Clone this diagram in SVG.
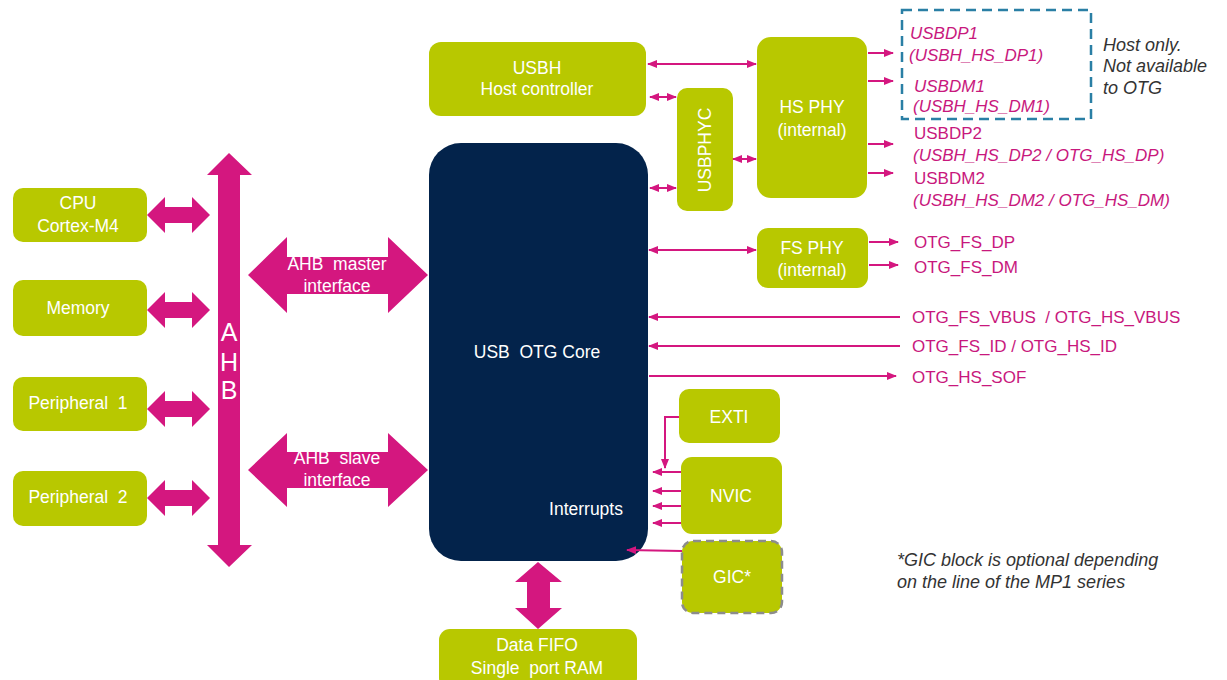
<svg xmlns="http://www.w3.org/2000/svg" width="1227" height="680" viewBox="0 0 1227 680">
<style>
.lime{fill:#b8c800}
.core{fill:#03234b}
.fat{fill:#d4177f}
.ln{stroke:#d4177f;stroke-width:2;fill:none}
.bt{font-family:"Liberation Sans",Arial,sans-serif;font-size:17.5px;fill:#ffffff;text-anchor:middle}
.pk{font-family:"Liberation Sans",Arial,sans-serif;font-size:17px;fill:#c8187d}
.it{font-style:italic}
.nt{font-family:"Liberation Sans",Arial,sans-serif;font-size:18px;font-style:italic;fill:#333333}
</style>
<defs>
<marker id="ah" markerUnits="userSpaceOnUse" markerWidth="10" markerHeight="8" refX="9" refY="4" orient="auto-start-reverse">
<path d="M0,0 L10,4 L0,8 z" fill="#d4177f"/>
</marker>
</defs>
<rect width="1227" height="680" fill="#ffffff"/>

<g id="cpu"><rect class="lime" x="13" y="188" width="134" height="54" rx="10"/><text class="bt" x="78" y="209">CPU</text><text class="bt" x="78" y="232">Cortex-M4</text></g>
<g id="memory"><rect class="lime" x="13" y="280" width="134" height="56" rx="10"/><text class="bt" x="78" y="314">Memory</text></g>
<g id="peripheral1"><rect class="lime" x="13" y="377" width="134" height="54" rx="10"/><text class="bt" x="78" y="409" xml:space="preserve">Peripheral  1</text></g>
<g id="peripheral2"><rect class="lime" x="13" y="471" width="134" height="55" rx="10"/><text class="bt" x="78" y="503" xml:space="preserve">Peripheral  2</text></g>
<g id="otg-core"><rect class="core" x="429" y="143" width="219" height="418" rx="32"/><text class="bt" x="537" y="358" xml:space="preserve">USB  OTG Core</text><text class="bt" x="586" y="515">Interrupts</text></g>
<g id="usbh"><rect class="lime" x="429" y="42" width="217" height="74" rx="12"/><text class="bt" x="537" y="74">USBH</text><text class="bt" x="537" y="95">Host controller</text></g>
<g id="usbphyc"><rect class="lime" x="677" y="88" width="56" height="123" rx="10"/><text class="bt" transform="translate(711,150) rotate(-90)" x="0" y="0">USBPHYC</text></g>
<g id="hsphy"><rect class="lime" x="757" y="37" width="110" height="161" rx="14"/><text class="bt" x="812" y="113">HS PHY</text><text class="bt" x="812" y="136">(internal)</text></g>
<g id="fsphy"><rect class="lime" x="757" y="228" width="111" height="60" rx="11"/><text class="bt" x="812" y="254">FS PHY</text><text class="bt" x="812" y="276">(internal)</text></g>
<g id="exti"><rect class="lime" x="679" y="389" width="101" height="54" rx="10"/><text class="bt" x="729" y="423">EXTI</text></g>
<g id="nvic"><rect class="lime" x="681" y="457" width="101" height="77" rx="11"/><text class="bt" x="731" y="502">NVIC</text></g>
<g id="gic"><rect class="lime" x="682" y="541" width="100" height="72" rx="11" stroke="#8c8c8c" stroke-width="2.5" stroke-dasharray="8,5"/><text class="bt" x="732" y="583">GIC*</text></g>
<g id="fifo"><rect class="lime" x="439" y="629" width="198" height="60" rx="11"/><text class="bt" x="537" y="651">Data FIFO</text><text class="bt" x="537" y="674" xml:space="preserve">Single  port RAM</text></g>

<g id="connectors">
<polygon class="fat" points="229,153 252,175 240,175 240,545 252,545 229,567 207,545 218,545 218,175 207,175"/>
<polygon class="fat" points="147,215 165,197 165,207 192,207 192,197 210,215 192,233 192,223 165,223 165,233"/>
<polygon class="fat" points="147,310 165,292 165,302 192,302 192,292 210,310 192,328 192,318 165,318 165,328"/>
<polygon class="fat" points="147,409 165,391 165,401 192,401 192,391 210,409 192,427 192,417 165,417 165,427"/>
<polygon class="fat" points="147,498 165,480 165,490 192,490 192,480 210,498 192,516 192,506 165,506 165,516"/>
<polygon class="fat" points="248,275 287,237 287,257 388,257 388,237 428,275 388,313 388,294 287,294 287,313"/>
<polygon class="fat" points="248,470 287,433 287,452 388,452 388,433 428,470 388,507 388,488 287,488 287,507"/>
<polygon class="fat" points="538,562 562,582 550,582 550,608 562,608 538,629 515,608 527,608 527,582 515,582"/>
<line class="ln" x1="648" y1="64" x2="756" y2="64" marker-start="url(#ah)" marker-end="url(#ah)"/>
<line class="ln" x1="650" y1="97" x2="676" y2="97" marker-start="url(#ah)" marker-end="url(#ah)"/>
<line class="ln" x1="733" y1="159" x2="756" y2="159" marker-start="url(#ah)" marker-end="url(#ah)"/>
<line class="ln" x1="650" y1="188" x2="676" y2="188" marker-start="url(#ah)" marker-end="url(#ah)"/>
<line class="ln" x1="868" y1="53" x2="893" y2="53" marker-end="url(#ah)"/>
<line class="ln" x1="868" y1="81" x2="893" y2="81" marker-end="url(#ah)"/>
<line class="ln" x1="868" y1="144" x2="893" y2="144" marker-end="url(#ah)"/>
<line class="ln" x1="868" y1="173" x2="893" y2="173" marker-end="url(#ah)"/>
<line class="ln" x1="649" y1="250" x2="756" y2="250" marker-start="url(#ah)" marker-end="url(#ah)"/>
<line class="ln" x1="869" y1="242" x2="898" y2="242" marker-end="url(#ah)"/>
<line class="ln" x1="869" y1="265" x2="898" y2="265" marker-end="url(#ah)"/>
<line class="ln" x1="900" y1="317" x2="649" y2="317" marker-end="url(#ah)"/>
<line class="ln" x1="900" y1="346" x2="649" y2="346" marker-end="url(#ah)"/>
<line class="ln" x1="649" y1="376" x2="896" y2="376" marker-end="url(#ah)"/>
<polyline class="ln" points="679,417 665,417 665,468" marker-end="url(#ah)"/>
<line class="ln" x1="681" y1="472" x2="653" y2="472" marker-end="url(#ah)"/>
<line class="ln" x1="681" y1="491" x2="653" y2="491" marker-end="url(#ah)"/>
<line class="ln" x1="681" y1="506" x2="653" y2="506" marker-end="url(#ah)"/>
<line class="ln" x1="681" y1="523" x2="653" y2="523" marker-end="url(#ah)"/>
<line class="ln" x1="682" y1="551" x2="627" y2="550" marker-end="url(#ah)"/>
</g>

<g id="ahb"><text class="bt" x="229" y="341" style="font-size:25px">A</text><text class="bt" x="229" y="371" style="font-size:25px">H</text><text class="bt" x="229" y="399" style="font-size:25px">B</text></g>
<g id="ahb-master"><text class="bt" x="337" y="270" xml:space="preserve">AHB  master</text><text class="bt" x="337" y="292">interface</text></g>
<g id="ahb-slave"><text class="bt" x="337" y="464" xml:space="preserve">AHB  slave</text><text class="bt" x="337" y="486">interface</text></g>

<g id="host-only">
<rect x="902" y="10" width="189" height="109" fill="none" stroke="#2a7fa5" stroke-width="2.5" stroke-dasharray="10,6"/>
<text class="pk it" x="910" y="39">USBDP1</text>
<text class="pk it" x="909" y="61">(USBH_HS_DP1)</text>
<text class="pk it" x="914" y="92">USBDM1</text>
<text class="pk it" x="913" y="112">(USBH_HS_DM1)</text>
<text class="nt" x="1103" y="51">Host only.</text>
<text class="nt" x="1103" y="72">Not available</text>
<text class="nt" x="1103" y="94">to OTG</text>
</g>
<g id="signals">
<text class="pk" x="914" y="139">USBDP2</text>
<text class="pk it" x="913" y="161">(USBH_HS_DP2 / OTG_HS_DP)</text>
<text class="pk" x="914" y="184">USBDM2</text>
<text class="pk it" x="913" y="206">(USBH_HS_DM2 / OTG_HS_DM)</text>
<text class="pk" x="914" y="248">OTG_FS_DP</text>
<text class="pk" x="914" y="273">OTG_FS_DM</text>
<text class="pk" x="912" y="323" xml:space="preserve">OTG_FS_VBUS  / OTG_HS_VBUS</text>
<text class="pk" x="912" y="352">OTG_FS_ID / OTG_HS_ID</text>
<text class="pk" x="912" y="383">OTG_HS_SOF</text>
</g>
<g id="note">
<text class="nt" x="897" y="566">*GIC block is optional depending</text>
<text class="nt" x="897" y="588">on the line of the MP1 series</text>
</g>
</svg>
